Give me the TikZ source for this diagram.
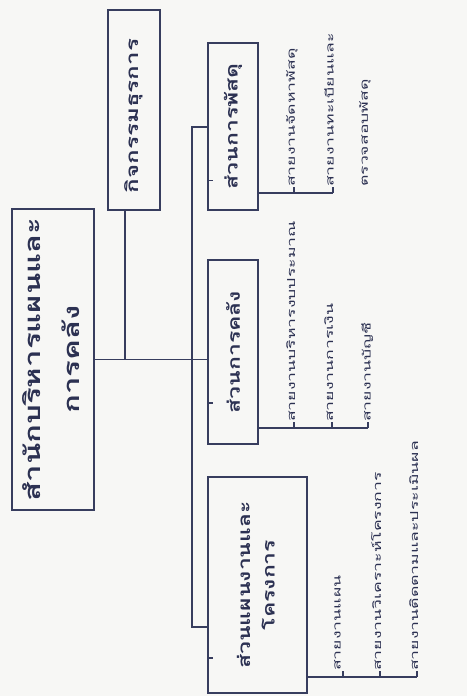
\documentclass[tikz,border=0pt]{standalone}
\usepackage{fontspec}
\newfontfamily\thai[Script=Thai]{Loma}
\usetikzlibrary{calc}
\definecolor{ink}{HTML}{373D5E}
\definecolor{txt}{HTML}{2C3152}
\definecolor{paper}{HTML}{F7F7F5}
\newcommand{\bigT}{\thai\bfseries\fontsize{22}{24}\selectfont}
\newcommand{\midT}{\thai\bfseries\fontsize{17}{19}\selectfont}
\newcommand{\leafT}{\thai\fontsize{11}{13}\selectfont}
\newcommand{\rot}[2]{\rotatebox{90}{\scalebox{#1}[1]{#2}}}
\begin{document}
\begin{tikzpicture}[x=1pt,y=-1pt,
  box/.style={draw=ink,line width=1.6pt,inner sep=0pt,text=txt},
  conn/.style={draw=ink,line width=1.3pt},
  leaf/.style={inner sep=0pt,text=txt,anchor=south west},
  tick/.style={draw=ink,line width=1.1pt}]
\fill[paper] (0,0) rectangle (467,696);
\useasboundingbox (0,0) rectangle (467,696);
% boxes
\node[box,minimum width=82pt,minimum height=301pt] (main) at (53,359.5)
  {\rotatebox{90}{\begin{tabular}{@{}c@{}}\scalebox{1.42}[1]{\bigT สำนักบริหารแผนและ}\\[18pt]\scalebox{1.42}[1]{\bigT การคลัง}\end{tabular}}};
\node[box,minimum width=52pt,minimum height=200pt] (kit) at (134,110)
  {\rotatebox{90}{\scalebox{1.42}[1]{\midT กิจกรรมธุรการ}\hspace{12pt}}};
\node[box,minimum width=50pt,minimum height=167pt] (pasadu) at (233,126.5)
  {\rot{1.35}{\midT ส่วนการพัสดุ}};
\node[box,minimum width=50pt,minimum height=184pt] (kalang) at (233,352)
  {\rot{1.35}{\midT ส่วนการคลัง}};
\node[box,minimum width=99pt,minimum height=216pt] (phaen) at (257.5,585)
  {\rotatebox{90}{\begin{tabular}{@{}c@{}}\scalebox{1.35}[1]{\midT ส่วนแผนงานและ}\\[8pt]\scalebox{1.35}[1]{\midT โครงการ}\end{tabular}}};
% small stubs inside the boxes
\draw[tick] ([yshift=-54pt]pasadu.west) -- ++(6,0);
\draw[tick] ([yshift=-51pt]kalang.west) -- ++(6,0);
\draw[tick] ([yshift=-73pt]phaen.west) -- ++(6,0);
% connectors
\coordinate (bt) at (192,127);
\coordinate (bb) at (192,627);
\draw[conn] (main.east) -- (main.east -| kalang.west);
\draw[conn] ([xshift=-9pt]kit.south) -- ([xshift=-9pt]kit.south |- main.east);
\draw[conn] (pasadu.west |- bt) -- (bt) -- (bb) -- (phaen.west |- bb);
% leaves: pasadu
\coordinate (p1) at (294,193); \coordinate (p2) at (333,193);
\draw[tick] (pasadu.east |- p1) -- (p2);
\draw[tick] (p1) -- ++(0,-6); \draw[tick] (p2) -- ++(0,-6);
\node[leaf] (lp1) at (286,187) {\rot{1.6}{\leafT สายงานจัดหาพัสดุ}};
\node[leaf] (lp2) at (324,187) {\rotatebox{90}{\begin{tabular}{@{}l@{}}\scalebox{1.6}[1]{\leafT สายงานทะเบียนและ}\\[22pt]\scalebox{1.6}[1]{\leafT ตรวจสอบพัสดุ}\end{tabular}}};
% leaves: kalang
\coordinate (k1) at (294,428); \coordinate (k2) at (332,428); \coordinate (k3) at (368,428);
\draw[tick] (kalang.east |- k1) -- (k3);
\draw[tick] (k1) -- ++(0,-6); \draw[tick] (k2) -- ++(0,-6); \draw[tick] (k3) -- ++(0,-6);
\node[leaf] (lk1) at (286,422) {\rot{1.6}{\leafT สายงานบริหารงบประมาณ}};
\node[leaf] (lk2) at (324,422) {\rot{1.6}{\leafT สายงานการเงิน}};
\node[leaf] (lk3) at (361,422) {\rot{1.6}{\leafT สายงานบัญชี}};
% leaves: phaen
\coordinate (f1) at (343,677); \coordinate (f2) at (380,677); \coordinate (f3) at (417,677);
\draw[tick] (phaen.east |- f1) -- (f3);
\draw[tick] (f1) -- ++(0,-6); \draw[tick] (f2) -- ++(0,-6); \draw[tick] (f3) -- ++(0,-6);
\node[leaf] (lf1) at (334,671) {\rot{1.6}{\leafT สายงานแผน}};
\node[leaf] (lf2) at (371,671) {\rot{1.6}{\leafT สายงานวิเคราะห์โครงการ}};
\node[leaf] (lf3) at (409,671) {\rot{1.6}{\leafT สายงานติดตามและประเมินผล}};
\end{tikzpicture}
\end{document}
